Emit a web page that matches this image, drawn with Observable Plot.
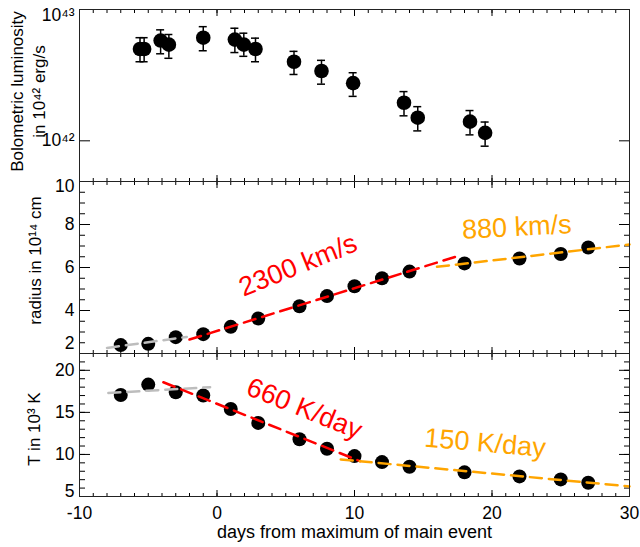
<!DOCTYPE html>
<html><head><meta charset="utf-8">
<script src="https://cdn.jsdelivr.net/npm/d3@7"></script>
<script src="https://cdn.jsdelivr.net/npm/@observablehq/plot@0.6"></script>
<style>
body{margin:0;background:#fff}
#chart svg{display:block}
</style>
</head><body><div id="chart"></div>
<script>
// ---- data ----
const lumDay = [-5.6, -5.3, -4.1, -3.5, -1.0, 1.3, 1.95, 2.8, 5.6, 7.6, 9.9, 13.6, 14.6, 18.4, 19.5];
const lum    = [5.0e42, 5.0e42, 5.8e42, 5.4e42, 6.1e42, 5.9e42, 5.4e42, 5.0e42, 4.0e42, 3.4e42, 2.75e42, 1.95e42, 1.5e42, 1.4e42, 1.15e42];
const lumHi  = [6.1e42, 6.1e42, 7.0e42, 6.45e42, 7.4e42, 7.2e42, 6.6e42, 6.05e42, 4.8e42, 4.1e42, 3.3e42, 2.37e42, 1.82e42, 1.7e42, 1.39e42];
const lumLo  = [4.0e42, 4.0e42, 4.6e42, 4.25e42, 4.85e42, 4.7e42, 4.4e42, 4.0e42, 3.2e42, 2.7e42, 2.18e42, 1.55e42, 1.19e42, 1.11e42, 0.91e42];

const epochDay = [-7, -5, -3, -1, 1, 3, 6, 8, 10, 12, 14, 18, 22, 25, 27];
const radius   = [2.39, 2.45, 2.76, 2.9, 3.24, 3.63, 4.2, 4.67, 5.13, 5.5, 5.81, 6.19, 6.42, 6.63, 6.93];
const temp     = [17.07, 18.3, 17.4, 17.0, 15.4, 13.75, 11.8, 10.67, 9.8, 9.09, 8.53, 7.87, 7.39, 7.03, 6.63];

// fitted segments [day, value]
const rFitEarly = [[-8, 2.26], [-2.2, 2.77]];
const rFitFast  = [[-2, 2.65], [17.7, 6.57]];
const rFitSlow  = [[16, 6.03], [30, 7.07]];
const tFitEarly = [[-7.9, 17.3], [-0.5, 18.0]];
const tFitFast  = [[-3.9, 18.58], [10.4, 9.2]];
const tFitSlow  = [[9.0, 9.4], [30, 6.2]];

const rLabels = ["2300 km/s", "880 km/s"];
const rLabelAt = [[5.9, 6.1], [21.8, 7.87]];
const tLabels = ["660 K/day", "150 K/day"];
const tLabelAt = [[6.35, 15.44], [19.5, 11.35]];

const xMajor = [-10, 0, 10, 20, 30];
const xMinor = d3.range(-10, 31, 1);
const lumTicks = [1e42, 1e43];
const rMajor = [2, 4, 6, 8, 10];
const rMinor = d3.range(2, 10.01, 0.5);
const tMajor = [5, 10, 15, 20];
const tMinor = d3.range(5, 22.01, 1);

const xTitle = "days from maximum of main event";
const lumTitle = "Bolometric luminosity\nin 10⁴² erg/s";
const rTitle = "radius in 10¹⁴ cm";
const tTitle = "T in 10³ K";

// ---- layout/style ----
const W = 640, ML = 79, MR = 11;
const FONT = "'Liberation Sans', Arial, Helvetica, sans-serif";
const RED = "#ff0000", ORANGE = "#ffa500", GRAY = "#bdbdbd";
const DASH = "12,7";
const sup = n => String(n).split("").map(c => "⁰¹²³⁴⁵⁶⁷⁸⁹"[+c]).join("");
const powFmt = d => "10" + sup(Math.round(Math.log10(d)));

const lumData = lumDay.map((d, i) => ({day: d, v: lum[i], hi: lumHi[i], lo: lumLo[i]}));
const rData = epochDay.map((d, i) => ({day: d, v: radius[i]}));
const tData = epochDay.map((d, i) => ({day: d, v: temp[i]}));

function xTickMarks() {
  return [
    Plot.axisX({anchor: "bottom", ticks: xMinor, tickSize: -3, fill: "none", label: null}),
    Plot.axisX({anchor: "bottom", ticks: xMajor, tickSize: -6, fill: "none", label: null}),
    Plot.axisX({anchor: "top", ticks: xMinor, tickSize: -3, fill: "none", label: null}),
    Plot.axisX({anchor: "top", ticks: xMajor, tickSize: -6, fill: "none", label: null})
  ];
}
function yTickMarks(major, minor) {
  const m = [];
  for (const a of ["left", "right"]) {
    if (minor) m.push(Plot.axisY({anchor: a, ticks: minor, tickSize: -6, fill: "none", label: null}));
    m.push(Plot.axisY({anchor: a, ticks: major, tickSize: -11, fill: "none", label: null}));
  }
  return m;
}
function yLabels(ticks, fmt, dy = 0) {
  return Plot.axisY({anchor: "left", ticks, tickSize: 0, tickPadding: 5, tickFormat: fmt, label: null, dy, fontSize: 17.5});
}
function fitLine(seg, color) {
  return Plot.line(seg, {x: d => d[0], y: d => d[1], stroke: color, strokeWidth: 2.5, strokeDasharray: DASH});
}
function yTitle(t, dx, dy) {
  return Plot.text([t], {frameAnchor: "left", dx, dy, rotate: -90, textAnchor: "middle", lineAnchor: "middle", fontSize: 17, lineHeight: 1.3});
}
const base = {width: W, marginLeft: ML, marginRight: MR, x: {domain: [-10, 30]},
  style: {fontFamily: FONT, fontSize: "17px", background: "transparent", overflow: "visible", color: "#000"}};

const p1 = Plot.plot({
  ...base, height: 181, marginTop: 9, marginBottom: 0,
  y: {type: "log", domain: [4.9e41, 1e43]},
  marks: [
    ...xTickMarks(),
    ...yTickMarks(lumTicks, null),
    yLabels([1e42], powFmt),
    yLabels([1e43], powFmt, 6),
    Plot.ruleX(lumData, {x: "day", y1: "lo", y2: "hi", strokeWidth: 1.5}),
    Plot.ruleY(lumData, {y: "hi", x1: "day", x2: "day", insetLeft: -4, insetRight: -4, strokeWidth: 1.5}),
    Plot.ruleY(lumData, {y: "lo", x1: "day", x2: "day", insetLeft: -4, insetRight: -4, strokeWidth: 1.5}),
    Plot.dot(lumData, {x: "day", y: "v", r: 7.3, fill: "black"}),
    yTitle(lumTitle, -53, -4),
    Plot.frame({stroke: "#222"})
  ]
});

const p2 = Plot.plot({
  ...base, height: 172, marginTop: 0, marginBottom: 0,
  y: {domain: [2, 10]},
  marks: [
    ...xTickMarks(),
    ...yTickMarks(rMajor, rMinor),
    yLabels([4, 6, 8], d => String(d)),
    yLabels([10], d => String(d), 5),
    yLabels([2], d => String(d), -10),
    Plot.dot(rData, {x: "day", y: "v", r: 7, fill: "black"}),
    fitLine(rFitEarly, GRAY),
    fitLine(rFitFast, RED),
    fitLine(rFitSlow, ORANGE),
    Plot.text(rLabels, {x: (d, i) => rLabelAt[i][0], y: (d, i) => rLabelAt[i][1], text: d => d,
      rotate: (d, i) => [-22, -3][i], fill: (d, i) => [RED, ORANGE][i], fontSize: 27}),
    yTitle(rTitle, -46, -7),
    Plot.frame({stroke: "#222"})
  ]
});

const p3 = Plot.plot({
  ...base, height: 194, marginTop: 0, marginBottom: 51,
  y: {domain: [5, 22]},
  marks: [
    ...xTickMarks(),
    ...yTickMarks(tMajor, tMinor),
    yLabels([10, 15, 20], d => String(d)),
    yLabels([5], d => String(d), -5),
    Plot.axisX({anchor: "bottom", ticks: xMajor, tickSize: 0, tickPadding: 10, tickFormat: d => String(d), label: null, fontSize: 17.5}),
    Plot.dot(tData, {x: "day", y: "v", r: 7, fill: "black"}),
    fitLine(tFitEarly, GRAY),
    fitLine(tFitFast, RED),
    fitLine(tFitSlow, ORANGE),
    Plot.text(tLabels, {x: (d, i) => tLabelAt[i][0], y: (d, i) => tLabelAt[i][1], text: d => d,
      rotate: (d, i) => [22, 5][i], fill: (d, i) => [RED, ORANGE][i], fontSize: 27}),
    yTitle(tTitle, -47, 4),
    Plot.text([xTitle], {frameAnchor: "bottom", dy: 36, lineAnchor: "middle", fontSize: 18}),
    Plot.frame({stroke: "#222"})
  ]
});

const c = document.getElementById("chart");
c.append(p1, p2, p3);
</script>
</body></html>
